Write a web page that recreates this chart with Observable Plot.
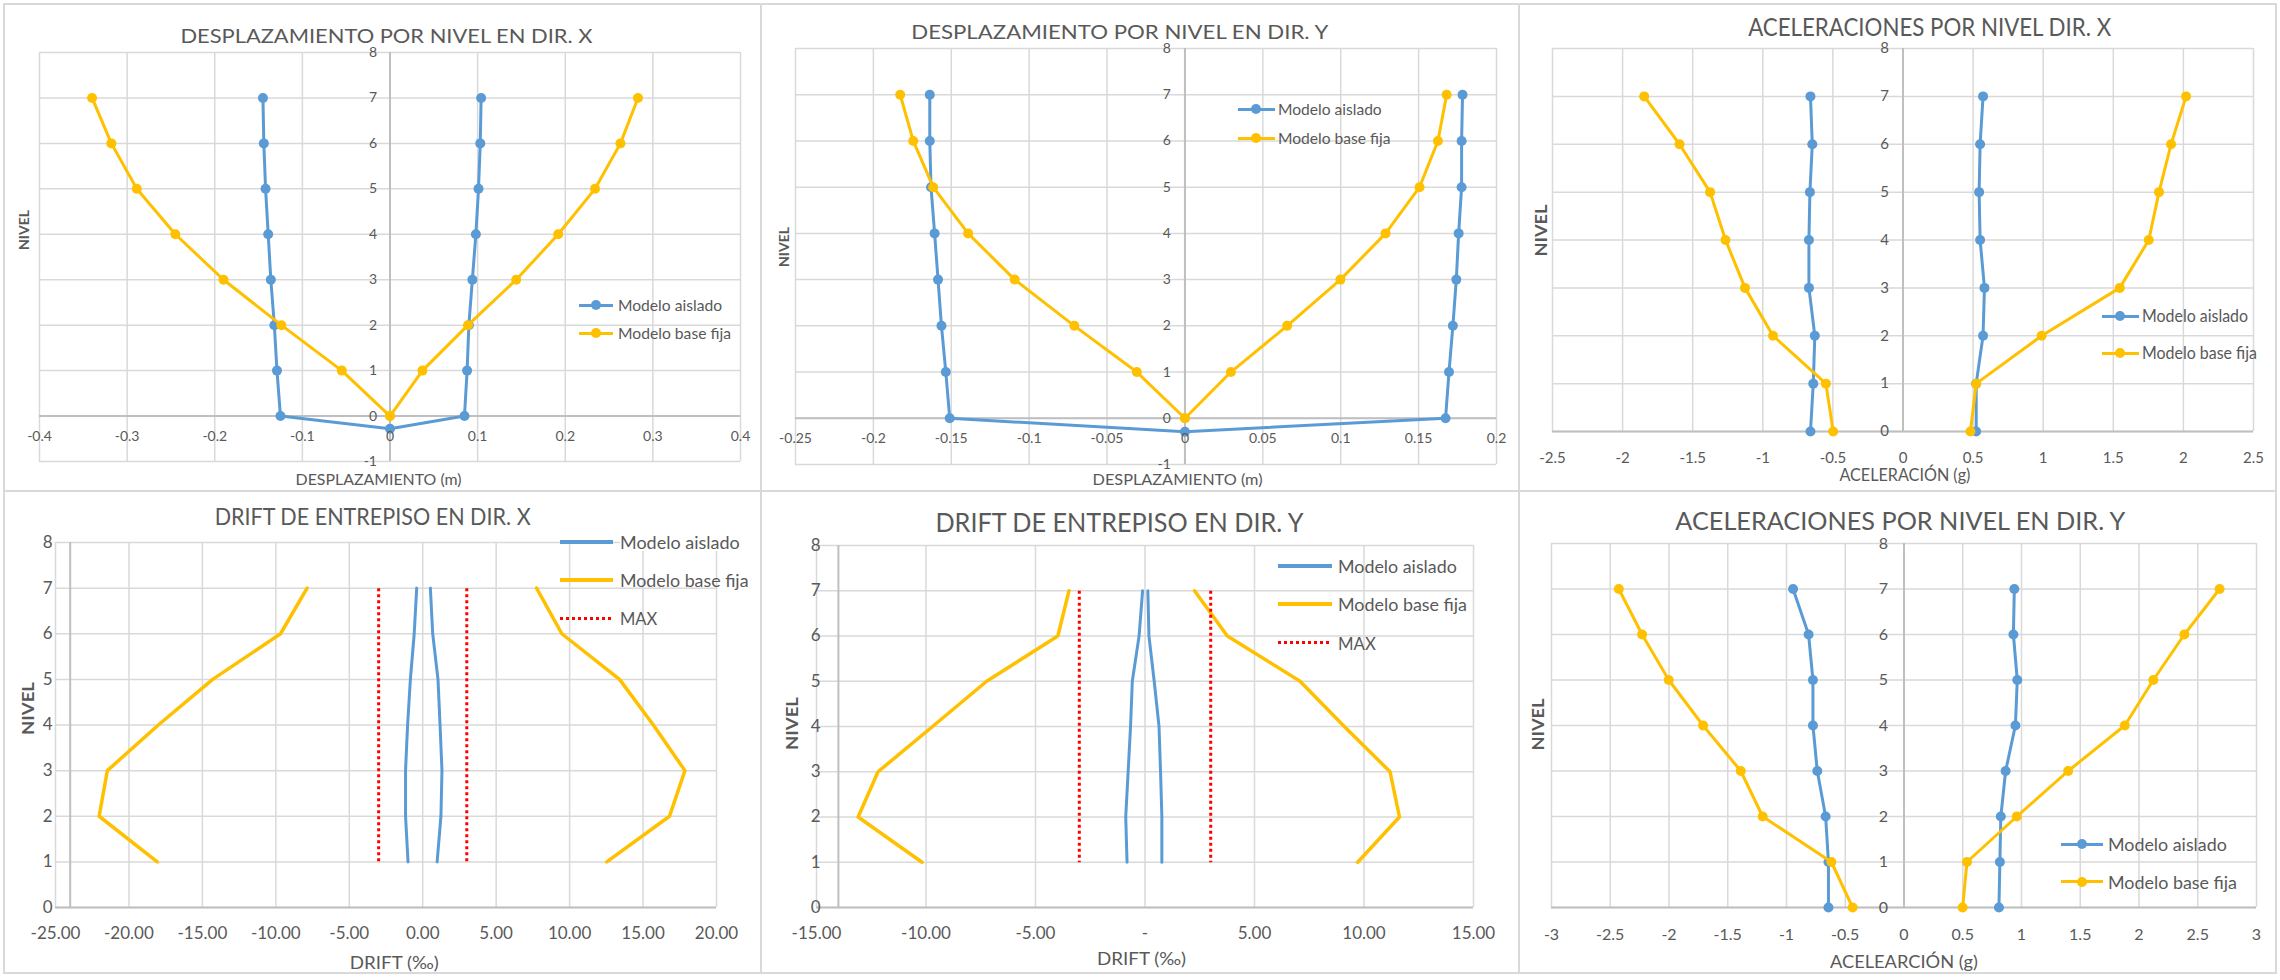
<!DOCTYPE html>
<html><head><meta charset="utf-8">
<script src="https://cdn.jsdelivr.net/npm/d3@7"></script>
<script src="https://cdn.jsdelivr.net/npm/@observablehq/plot@0.6"></script>
<style>
html,body{margin:0;padding:0;background:#fff;}
#fig{position:relative;width:2280px;height:980px;overflow:hidden;background:#fff;font-family:Lato,"Open Sans",sans-serif;color:#595959;}
.lbl{position:absolute;white-space:nowrap;line-height:1;}
.sep{position:absolute;background:#d9d9d9;}
.sw{position:absolute;}
</style></head><body><div id="fig"></div>
<script>
// ---------------- DATA ----------------
const niveles = [7,6,5,4,3,2,1,0];
const nivelesDrift = [7,6,5,4,3,2,1];
const ejeNivelDesp = [8,7,6,5,4,3,2,1,0,-1];
const ejeNivel = [8,7,6,5,4,3,2,1,0];

// Desplazamiento dir. X (m)
const despX_aislado_izq = [-0.145,-0.144,-0.142,-0.139,-0.136,-0.132,-0.129,-0.125];
const despX_aislado_der = [0.104,0.103,0.101,0.098,0.094,0.090,0.088,0.085];
const despX_aislado_base = [0, -0.28];
const despX_fija_izq = [-0.340,-0.318,-0.289,-0.245,-0.190,-0.124,-0.055,0];
const despX_fija_der = [0.283,0.263,0.234,0.192,0.144,0.089,0.037,0];
const despX_ticks = [-0.4,-0.3,-0.2,-0.1,0,0.1,0.2,0.3,0.4];
const despX_labels = ["-0.4","-0.3","-0.2","-0.1","0","0.1","0.2","0.3","0.4"];

// Desplazamiento dir. Y (m)
const despY_aislado_izq = [-0.1638,-0.1638,-0.1630,-0.1607,-0.1585,-0.1563,-0.1535,-0.1510];
const despY_aislado_der = [0.1782,0.1776,0.1776,0.1757,0.1742,0.1720,0.1695,0.1673];
const despY_aislado_base = [0, -0.29];
const despY_fija_izq = [-0.1828,-0.1744,-0.1616,-0.1392,-0.1093,-0.0710,-0.0309,0];
const despY_fija_der = [0.1680,0.1624,0.1506,0.1288,0.0998,0.0656,0.0295,0];
const despY_ticks = [-0.25,-0.2,-0.15,-0.1,-0.05,0,0.05,0.1,0.15,0.2];
const despY_labels = ["-0.25","-0.2","-0.15","-0.1","-0.05","0","0.05","0.1","0.15","0.2"];

// Aceleraciones dir. X (g)
const acelX_aislado_izq = [-0.660,-0.647,-0.664,-0.671,-0.671,-0.629,-0.640,-0.660];
const acelX_aislado_der = [0.571,0.550,0.543,0.550,0.581,0.571,0.522,0.522];
const acelX_fija_izq = [-1.846,-1.594,-1.376,-1.266,-1.127,-0.927,-0.550,-0.498];
const acelX_fija_der = [2.019,1.912,1.826,1.753,1.546,0.989,0.522,0.481];
const acelX_ticks = [-2.5,-2,-1.5,-1,-0.5,0,0.5,1,1.5,2,2.5];
const acelX_labels = ["-2.5","-2","-1.5","-1","-0.5","0","0.5","1","1.5","2","2.5"];

// Drift dir. X (‰)
const driftX_aislado_izq = [-0.41,-0.58,-0.84,-1.03,-1.17,-1.17,-1.00];
const driftX_aislado_der = [0.52,0.68,1.04,1.18,1.31,1.24,0.98];
const driftX_fija_izq = [-7.87,-9.68,-14.30,-18.00,-21.47,-22.03,-18.07];
const driftX_fija_der = [7.75,9.47,13.40,15.70,17.85,16.80,12.53];
const driftX_ticks = [-25,-20,-15,-10,-5,0,5,10,15,20];
const driftX_labels = ["-25.00","-20.00","-15.00","-10.00","-5.00","0.00","5.00","10.00","15.00","20.00"];

// Drift dir. Y (‰)
const driftY_aislado_izq = [-0.11,-0.27,-0.58,-0.66,-0.77,-0.88,-0.82];
const driftY_aislado_der = [0.13,0.18,0.42,0.64,0.71,0.77,0.77];
const driftY_fija_izq = [-3.47,-3.98,-7.23,-9.70,-12.19,-13.10,-10.18];
const driftY_fija_der = [2.26,3.76,7.08,9.10,11.19,11.62,9.71];
const driftY_ticks = [-15,-10,-5,0,5,10,15];
const driftY_labels = ["-15.00","-10.00","-5.00","-","5.00","10.00","15.00"];

const driftMax = 3;

// Aceleraciones dir. Y (g)
const acelY_aislado_izq = [-0.944,-0.812,-0.775,-0.775,-0.738,-0.667,-0.643,-0.643];
const acelY_aislado_der = [0.939,0.931,0.964,0.948,0.865,0.824,0.816,0.808];
const acelY_fija_izq = [-2.427,-2.229,-2.002,-1.710,-1.389,-1.203,-0.618,-0.437];
const acelY_fija_der = [2.686,2.386,2.122,1.879,1.397,0.960,0.536,0.499];
const acelY_ticks = [-3,-2.5,-2,-1.5,-1,-0.5,0,0.5,1,1.5,2,2.5,3];
const acelY_labels = ["-3","-2.5","-2","-1.5","-1","-0.5","0","0.5","1","1.5","2","2.5","3"];

// ---------------- HELPERS ----------------
const AZUL = "#5B9BD5", NARANJA = "#FFC000", ROJO = "#FF0000", GRID = "#d9d9d9", EJE = "#bfbfbf", TXT = "#595959";
const fig = document.getElementById("fig");

function pts(vals, niv, g) { return vals.map((v, i) => ({v, n: niv[i], g})); }

function drawPanel(p) {
  const marks = [
    Plot.ruleX(p.xTicks, {x: d => d, stroke: GRID, strokeWidth: 1.5}),
    Plot.ruleY(p.yTicks, {y: d => d, stroke: GRID, strokeWidth: 1.5}),
    Plot.ruleX([p.axisX], {x: d => d, stroke: EJE, strokeWidth: 2}),
    Plot.ruleY([0], {y: d => d, stroke: EJE, strokeWidth: 2})
  ];
  for (const s of p.series) {
    marks.push(Plot.line(s.data, {x: "v", y: "n", z: "g", stroke: s.color, strokeWidth: s.width,
      strokeDasharray: s.dash, strokeLinejoin: "round", strokeLinecap: s.dash ? "butt" : "round"}));
    if (s.dots) marks.push(Plot.dot(s.data, {x: "v", y: "n", r: 5, fill: s.color, stroke: "none"}));
  }
  marks.push(Plot.text(p.xTicks, {x: d => d, y: () => p.xLabAt, dy: p.xLabDy,
    text: (d, i) => p.xLabels[i], fontSize: p.tickFont, fill: TXT}));
  marks.push(Plot.text(p.yTicks, {x: () => p.yLabAt, y: d => d, dx: p.yLabDx, textAnchor: "end",
    text: d => String(d), fontSize: p.tickFont, fill: TXT}));
  const svg = Plot.plot({
    width: 760, height: 490,
    marginTop: p.m[0], marginRight: p.m[1], marginBottom: p.m[2], marginLeft: p.m[3],
    x: {domain: p.xd, axis: null},
    y: {domain: p.yd, axis: null},
    style: {background: "transparent", overflow: "visible", fontFamily: "Lato, 'Open Sans', sans-serif", color: TXT},
    marks
  });
  svg.style.position = "absolute";
  svg.style.left = p.left + "px";
  svg.style.top = p.top + "px";
  svg.style.maxWidth = "none";
  fig.appendChild(svg);
}

function addText(txt, o) {
  const el = document.createElement("div");
  el.className = "lbl";
  el.textContent = txt;
  el.style.fontSize = o.size + "px";
  el.style.fontWeight = o.weight || 400;
  if (o.bg) el.style.background = "#fff";
  fig.appendChild(el);
  const r = el.getBoundingClientRect();
  const w = r.width, h = r.height;
  const s = o.width ? o.width / w : 1;
  if (o.anchor === "start") {
    el.style.left = o.x + "px";
    el.style.transformOrigin = "left center";
  } else {
    el.style.left = (o.x - w / 2) + "px";
    el.style.transformOrigin = "center center";
  }
  el.style.top = (o.y - h / 2) + "px";
  el.style.transform = (o.rotate ? "rotate(-90deg) " : "") + "scaleX(" + s + ")";
}

function addSwatch(kind, x1, x2, y, color, th) {
  const d = document.createElement("div");
  d.className = "sw";
  d.style.left = x1 + "px"; d.style.width = (x2 - x1) + "px";
  d.style.top = (y - th / 2) + "px"; d.style.height = th + "px";
  if (kind === "dot") d.style.background = `repeating-linear-gradient(to right, ${color} 0 3px, transparent 3px 6px)`;
  else d.style.background = color;
  fig.appendChild(d);
  if (kind === "marker") {
    const c = document.createElement("div");
    c.className = "sw";
    const cx = (x1 + x2) / 2;
    c.style.left = (cx - 5) + "px"; c.style.top = (y - 5) + "px";
    c.style.width = "10px"; c.style.height = "10px"; c.style.borderRadius = "50%";
    c.style.background = color;
    fig.appendChild(c);
  }
}

function sep(x, y, w, h) {
  const d = document.createElement("div");
  d.className = "sep";
  d.style.left = x + "px"; d.style.top = y + "px"; d.style.width = w + "px"; d.style.height = h + "px";
  fig.appendChild(d);
}

// ---------------- PANELS ----------------
// 1. Desplazamiento X
drawPanel({
  left: 0, top: 0, m: [52, 20, 29, 39], xd: [-0.4, 0.4], yd: [-1, 8],
  xTicks: despX_ticks, xLabels: despX_labels, yTicks: ejeNivelDesp,
  axisX: 0, xLabAt: 0, xLabDy: 20, yLabAt: 0, yLabDx: -13, tickFont: 14,
  series: [
    {data: [...pts(despX_aislado_izq, niveles, "a"), {v: despX_aislado_base[0], n: despX_aislado_base[1], g: "a"}, ...pts(despX_aislado_der, niveles, "a").reverse()], color: AZUL, width: 3, dots: true},
    {data: [...pts(despX_fija_izq, niveles, "f"), ...pts(despX_fija_der, niveles, "f").reverse()], color: NARANJA, width: 3, dots: true}
  ]
});

// 2. Desplazamiento Y
drawPanel({
  left: 760, top: 0, m: [48, 24, 26, 35], xd: [-0.25, 0.2], yd: [-1, 8],
  xTicks: despY_ticks, xLabels: despY_labels, yTicks: ejeNivelDesp,
  axisX: 0, xLabAt: 0, xLabDy: 20, yLabAt: 0, yLabDx: -14, tickFont: 14,
  series: [
    {data: [...pts(despY_aislado_izq, niveles, "a"), {v: despY_aislado_base[0], n: despY_aislado_base[1], g: "a"}, ...pts(despY_aislado_der, niveles, "a").reverse()], color: AZUL, width: 3, dots: true},
    {data: [...pts(despY_fija_izq, niveles, "f"), ...pts(despY_fija_der, niveles, "f").reverse()], color: NARANJA, width: 3, dots: true}
  ]
});

// 3. Aceleraciones X
drawPanel({
  left: 1520, top: 0, m: [48, 27, 59, 32], xd: [-2.5, 2.5], yd: [0, 8],
  xTicks: acelX_ticks, xLabels: acelX_labels, yTicks: ejeNivel,
  axisX: 0, xLabAt: 0, xLabDy: 27, yLabAt: 0, yLabDx: -14, tickFont: 15,
  series: [
    {data: [...pts(acelX_aislado_izq, niveles, "i"), ...pts(acelX_aislado_der, niveles, "d")], color: AZUL, width: 3, dots: true},
    {data: [...pts(acelX_fija_izq, niveles, "i"), ...pts(acelX_fija_der, niveles, "d")], color: NARANJA, width: 3, dots: true}
  ]
});

// 4. Drift X
drawPanel({
  left: 0, top: 490, m: [52, 44, 73, 55], xd: [-25, 20], yd: [0, 8],
  xTicks: driftX_ticks, xLabels: driftX_labels, yTicks: ejeNivel,
  axisX: -24, xLabAt: 0, xLabDy: 26, yLabAt: -25, yLabDx: -3, tickFont: 17,
  series: [
    {data: [...pts(driftX_aislado_izq, nivelesDrift, "i"), ...pts(driftX_aislado_der, nivelesDrift, "d")], color: AZUL, width: 3},
    {data: [...pts(driftX_fija_izq, nivelesDrift, "i"), ...pts(driftX_fija_der, nivelesDrift, "d")], color: NARANJA, width: 3.5},
    {data: [...nivelesDrift.map(n => ({v: -driftMax, n, g: "i"})), ...nivelesDrift.map(n => ({v: driftMax, n, g: "d"}))], color: ROJO, width: 3, dash: "3,3"}
  ]
});

// 5. Drift Y
drawPanel({
  left: 760, top: 490, m: [55, 47, 73, 56], xd: [-15, 15], yd: [0, 8],
  xTicks: driftY_ticks, xLabels: driftY_labels, yTicks: ejeNivel,
  axisX: -14, xLabAt: 0, xLabDy: 26, yLabAt: -15, yLabDx: 4, tickFont: 17,
  series: [
    {data: [...pts(driftY_aislado_izq, nivelesDrift, "i"), ...pts(driftY_aislado_der, nivelesDrift, "d")], color: AZUL, width: 3},
    {data: [...pts(driftY_fija_izq, nivelesDrift, "i"), ...pts(driftY_fija_der, nivelesDrift, "d")], color: NARANJA, width: 3.5},
    {data: [...nivelesDrift.map(n => ({v: -driftMax, n, g: "i"})), ...nivelesDrift.map(n => ({v: driftMax, n, g: "d"}))], color: ROJO, width: 3, dash: "3,3"}
  ]
});

// 6. Aceleraciones Y
drawPanel({
  left: 1520, top: 490, m: [53, 24, 73, 31], xd: [-3, 3], yd: [0, 8],
  xTicks: acelY_ticks, xLabels: acelY_labels, yTicks: ejeNivel,
  axisX: 0, xLabAt: 0, xLabDy: 27, yLabAt: 0, yLabDx: -16, tickFont: 16,
  series: [
    {data: [...pts(acelY_aislado_izq, niveles, "i"), ...pts(acelY_aislado_der, niveles, "d")], color: AZUL, width: 3, dots: true},
    {data: [...pts(acelY_fija_izq, niveles, "i"), ...pts(acelY_fija_der, niveles, "d")], color: NARANJA, width: 3, dots: true}
  ]
});

// ---------------- FRAME ----------------
sep(3, 3, 2274, 2); sep(3, 972, 2274, 2); sep(3, 3, 2, 971); sep(2275, 3, 2, 971);
sep(760, 3, 2, 971); sep(1518, 3, 2, 971); sep(3, 490, 2274, 2);

// ---------------- TEXTS ----------------
addText("DESPLAZAMIENTO POR NIVEL EN DIR. X", {x: 386, y: 34.5, size: 20, width: 412});
addText("DESPLAZAMIENTO POR NIVEL EN DIR. Y", {x: 1120, y: 30.5, size: 20, width: 417});
addText("ACELERACIONES POR NIVEL DIR. X", {x: 1930, y: 27, size: 24.5, width: 363});
addText("DRIFT DE ENTREPISO EN DIR. X", {x: 373, y: 516.7, size: 23, width: 316});
addText("DRIFT DE ENTREPISO EN DIR. Y", {x: 1119.7, y: 522.2, size: 26.5, width: 368});
addText("ACELERACIONES POR NIVEL EN DIR. Y", {x: 1900, y: 520.8, size: 25.5, width: 450});

addText("DESPLAZAMIENTO (m)", {x: 379, y: 479, size: 16, width: 166});
addText("DESPLAZAMIENTO (m)", {x: 1177.6, y: 479, size: 16, width: 170});
addText("ACELERACIÓN (g)", {x: 1905, y: 473.5, size: 18, width: 131});
addText("DRIFT (‰)", {x: 394.4, y: 962.5, size: 17, width: 89});
addText("DRIFT (‰)", {x: 1142, y: 958.8, size: 17.5, width: 89});
addText("ACELEARCIÓN (g)", {x: 1904, y: 961, size: 17, width: 148});

addText("NIVEL", {x: 24, y: 230, size: 14, width: 40, weight: 700, rotate: true});
addText("NIVEL", {x: 784, y: 247, size: 14, width: 40, weight: 700, rotate: true});
addText("NIVEL", {x: 1540, y: 230, size: 17, width: 52, weight: 700, rotate: true});
addText("NIVEL", {x: 27.3, y: 708, size: 17, width: 53, weight: 700, rotate: true});
addText("NIVEL", {x: 791.7, y: 723, size: 17, width: 53, weight: 700, rotate: true});
addText("NIVEL", {x: 1537, y: 724, size: 17, width: 52, weight: 700, rotate: true});

// ---------------- LEGENDS ----------------
const legAislado = "Modelo aislado", legFija = "Modelo base fija", legMax = "MAX";
// 1
addSwatch("marker", 579, 613, 305, AZUL, 3); addText(legAislado, {x: 618, y: 305, size: 16, width: 104, anchor: "start"});
addSwatch("marker", 579, 613, 333, NARANJA, 3); addText(legFija, {x: 618, y: 333, size: 16, width: 113, anchor: "start"});
// 2
addSwatch("marker", 1237.5, 1274.8, 109.3, AZUL, 3); addText(legAislado, {x: 1277.7, y: 109.3, size: 16, width: 103.7, anchor: "start"});
addSwatch("marker", 1237.5, 1274.8, 138.3, NARANJA, 3); addText(legFija, {x: 1277.7, y: 138.3, size: 16, width: 112.5, anchor: "start"});
// 3
addSwatch("marker", 2101.7, 2139, 316, AZUL, 3); addText(legAislado, {x: 2142, y: 316, size: 16.5, width: 106, anchor: "start"});
addSwatch("marker", 2101.7, 2139, 353.3, NARANJA, 3); addText(legFija, {x: 2142, y: 353.3, size: 16.5, width: 115, anchor: "start"});
// 4
addSwatch("line", 560, 613, 541.7, AZUL, 4); addText(legAislado, {x: 619.5, y: 541.7, size: 18, width: 119.7, anchor: "start", bg: true});
addSwatch("line", 560, 613, 580, NARANJA, 4); addText(legFija, {x: 619.5, y: 580, size: 18, width: 128.5, anchor: "start"});
addSwatch("dot", 560, 613, 618.3, ROJO, 3); addText(legMax, {x: 619.5, y: 618.3, size: 18, width: 37.3, anchor: "start"});
// 5
addSwatch("line", 1277.7, 1332, 566, AZUL, 4); addText(legAislado, {x: 1337.8, y: 566, size: 18, width: 118.8, anchor: "start"});
addSwatch("line", 1277.7, 1332, 604.3, NARANJA, 4); addText(legFija, {x: 1337.8, y: 604.3, size: 18, width: 129, anchor: "start"});
addSwatch("dot", 1277.7, 1332, 642.7, ROJO, 3); addText(legMax, {x: 1337.8, y: 642.7, size: 18, width: 37.8, anchor: "start"});
// 6
addSwatch("marker", 2061.4, 2103, 844, AZUL, 3); addText(legAislado, {x: 2107.5, y: 844, size: 18, width: 118.8, anchor: "start"});
addSwatch("marker", 2061.4, 2103, 881.7, NARANJA, 3); addText(legFija, {x: 2107.5, y: 881.7, size: 18, width: 129, anchor: "start"});
</script></body></html>
